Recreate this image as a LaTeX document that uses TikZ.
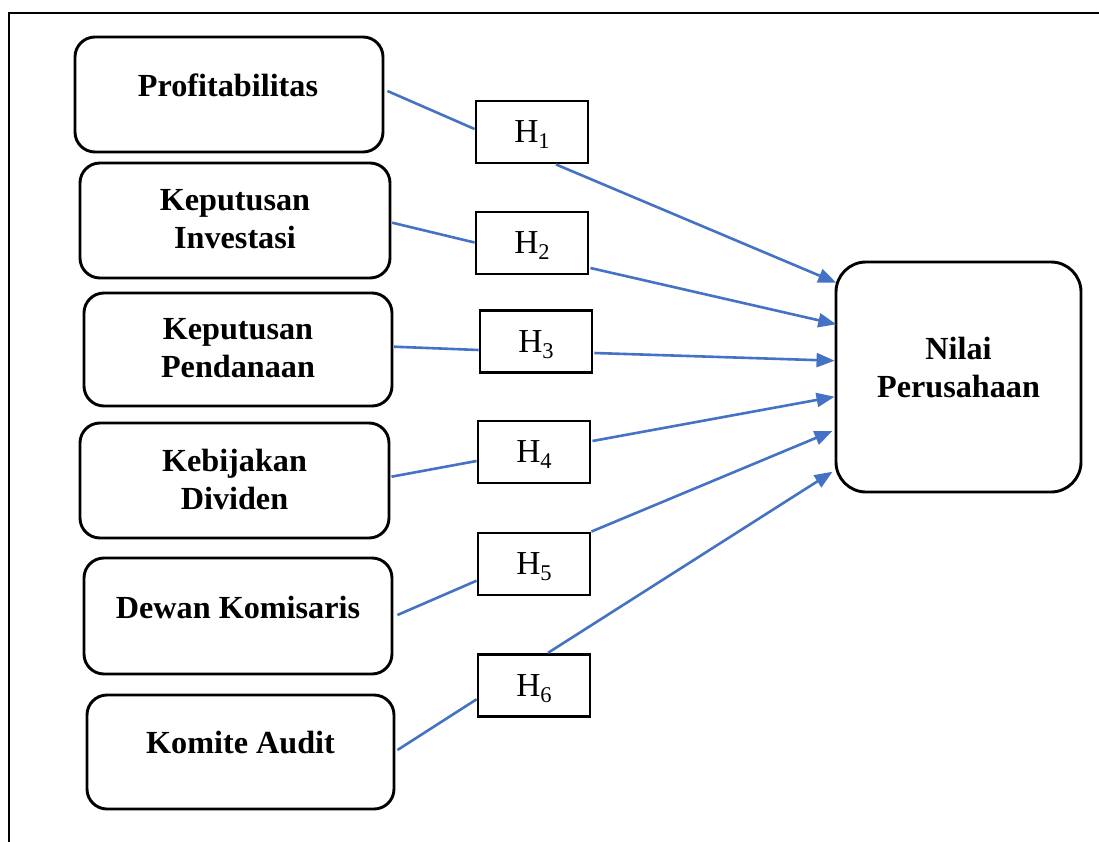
\documentclass[tikz,border=0pt]{standalone}
\usepackage{fontspec}
\setmainfont{Liberation Serif}
\usetikzlibrary{arrows.meta,calc}
\definecolor{lineblue}{HTML}{4472C4}
\newcommand{\hsub}[1]{H\raisebox{-6pt}{\fontsize{22.5}{26}\selectfont #1}}
\begin{document}
\begin{tikzpicture}[x=1pt,y=-1pt,
  src/.style={draw=black, line width=2.9pt, rounded corners=20pt, inner sep=0pt},
  tgt/.style={draw=black, line width=2.9pt, rounded corners=30pt, inner sep=0pt},
  hbox/.style={draw=black, line width=2.9pt, minimum width=112pt, minimum height=62pt, inner sep=0pt, text depth=0pt, font=\fontsize{33.5}{38}\selectfont},
  lbl/.style={align=center, font=\fontsize{32.2}{38}\selectfont\bfseries, inner sep=0pt},
  conn/.style={draw=lineblue, line width=2.6pt},
  arr/.style={conn, -{Triangle[length=18pt,width=14pt]}}
]
\useasboundingbox (0,0) rectangle (1099,842);
\draw[line width=2.6pt] (9,842) -- (9,13) -- (1099,13);

% source boxes
\node[src, minimum width=308pt, minimum height=115pt] (s1) at (229,94.5) {};
\node[src, minimum width=310pt, minimum height=115pt] (s2) at (235,220.5) {};
\node[src, minimum width=308pt, minimum height=113pt] (s3) at (238,349.5) {};
\node[src, minimum width=309pt, minimum height=115pt] (s4) at (234.5,480.5) {};
\node[src, minimum width=308pt, minimum height=116pt] (s5) at (238,616) {};
\node[src, minimum width=307pt, minimum height=114pt] (s6) at (240.5,752) {};
\node[tgt, minimum width=245pt, minimum height=230pt] (n) at (958.5,377) {};

% labels
\node[lbl] (t1) at (228,85) {Profitabilitas};
\node[lbl] (t2) at (235,219.5) {Keputusan\\Investasi};
\node[lbl] (t3) at (238,348) {Keputusan\\Pendanaan};
\node[lbl] (t4) at (234.5,479) {Kebijakan\\Dividen};
\node[lbl] (t5) at (238,607) {Dewan Komisaris};
\node[lbl] (t6) at (240.5,743) {Komite Audit};
\node[lbl] (tn) at (958.5,368) {Nilai\\Perusahaan};

% hypothesis boxes
\node[hbox] (h1) at (532,132) {\hsub{1}};
\node[hbox] (h2) at (532,243) {\hsub{2}};
\node[hbox] (h3) at (536,341.5) {\hsub{3}};
\node[hbox] (h4) at (534,452) {\hsub{4}};
\node[hbox] (h5) at (534,564) {\hsub{5}};
\node[hbox] (h6) at (534,685.3) {\hsub{6}};

% connectors
\draw[conn] ($(s1.east)+(3,-3.5)$) -- ($(h1.west)+(0,-3)$);
\draw[arr] ($(h1.south)+(24,0)$) -- ($(n.west)+(1.7,-94.3)$);

\draw[conn] ($(s2.east)+(0.7,2.2)$) -- ($(h2.west)+(0,-0.5)$);
\draw[arr] ($(h2.east)+(1,25)$) -- ($(n.west)+(1.7,-52.7)$);

\draw[conn] ($(s3.east)+(0.7,-2.8)$) -- ($(h3.west)+(0,8.5)$);
\draw[arr] ($(h3.east)+(1,11.5)$) -- ($(n.west)+(0,-16.3)$);

\draw[conn] ($(s4.east)+(1,-3.8)$) -- ($(h4.west)+(0,9)$);
\draw[arr] ($(h4.east)+(1,-11)$) -- ($(n.west)+(0,19.7)$);

\draw[conn] ($(s5.east)+(4,-1)$) -- ($(h5.west)+(0,16.7)$);
\draw[arr] ($(h5.north east)+(0,0)$) -- ($(n.west)+(-2,54)$);

\draw[conn] ($(s6.east)+(2,-2)$) -- ($(h6.west)+(0,14)$);
\draw[arr] ($(h6.north)+(14,0)$) -- ($(n.west)+(-2,94.7)$);
\end{tikzpicture}
\end{document}
